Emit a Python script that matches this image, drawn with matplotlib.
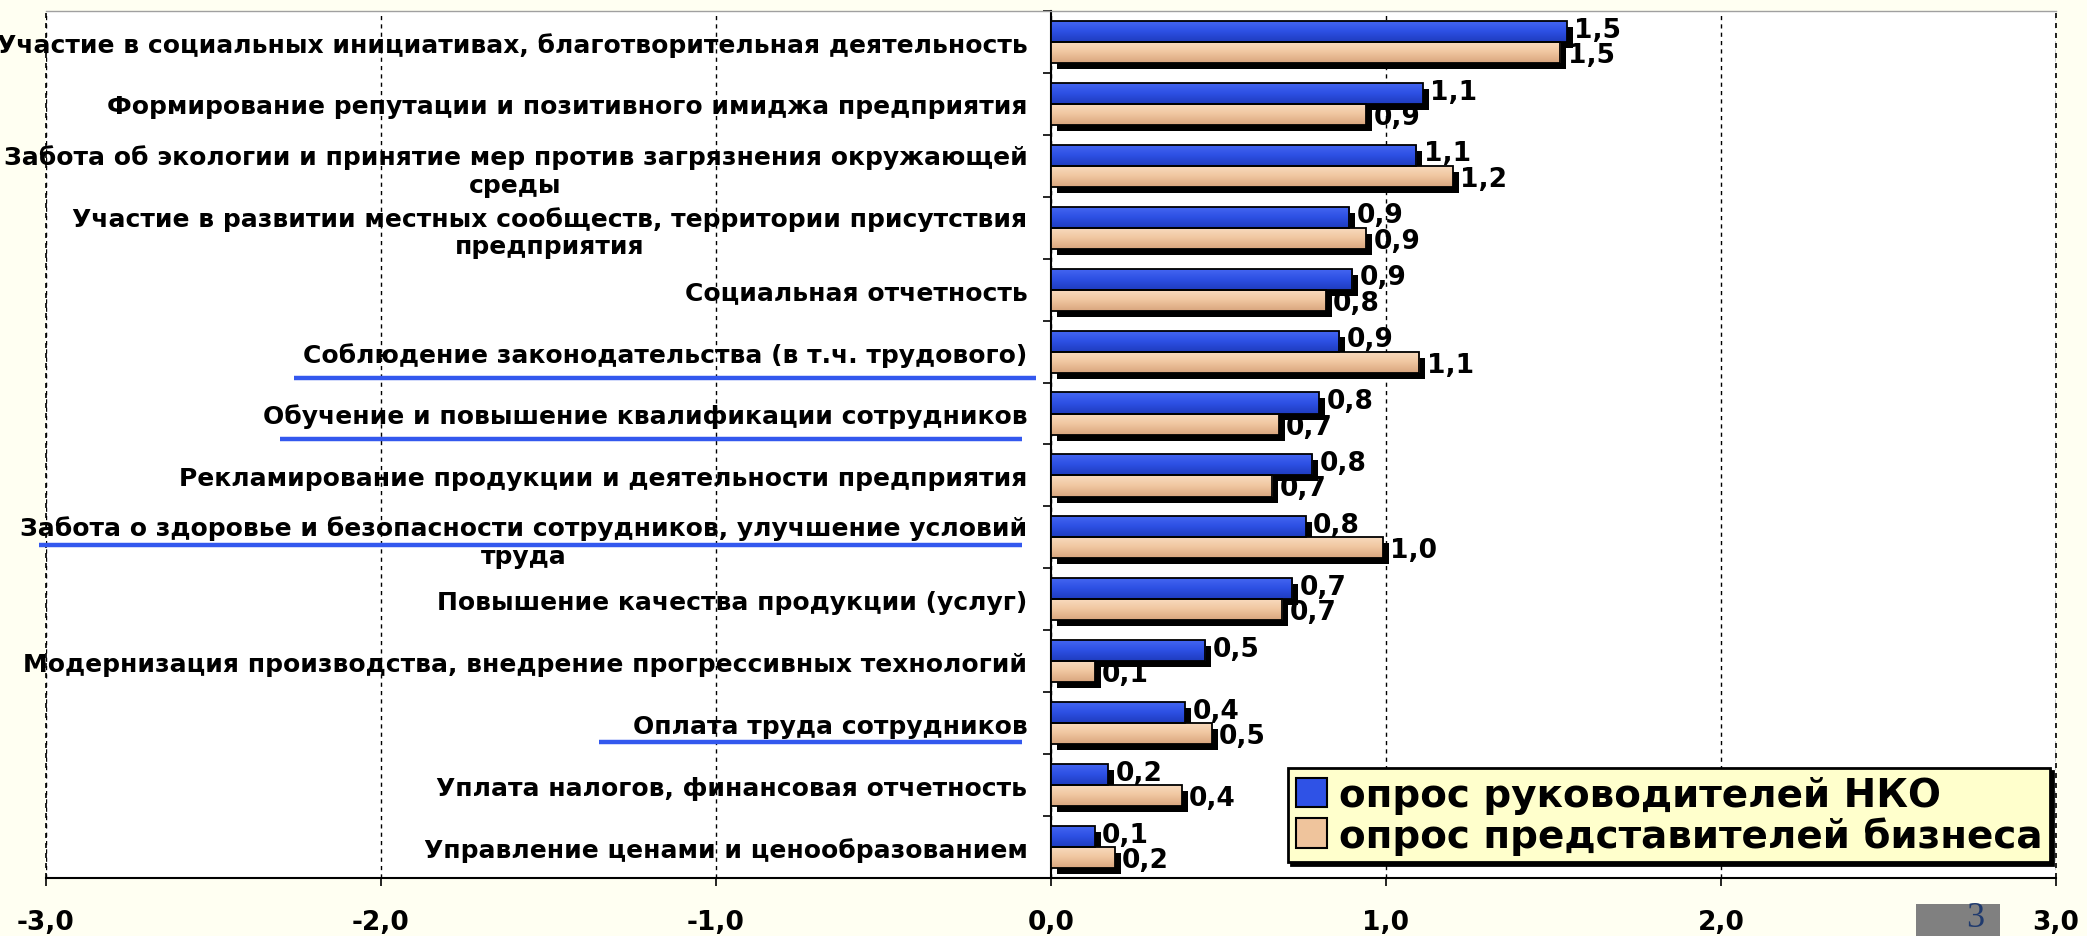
import numpy as np
import matplotlib
matplotlib.use('Agg')
import matplotlib.pyplot as plt
from matplotlib import transforms
from matplotlib.patches import Patch, Rectangle
from matplotlib.colors import LinearSegmentedColormap

# ---------------- data ----------------
categories = [
    "Участие в социальных инициативах, благотворительная деятельность",
    "Формирование репутации и позитивного имиджа предприятия",
    "Забота об экологии и принятие мер против загрязнения окружающей\nсреды",
    "Участие в развитии местных сообществ, территории присутствия\nпредприятия",
    "Социальная отчетность",
    "Соблюдение законодательства (в т.ч. трудового)",
    "Обучение и повышение квалификации сотрудников",
    "Рекламирование продукции и деятельности предприятия",
    "Забота о здоровье и безопасности сотрудников, улучшение условий\nтруда",
    "Повышение качества продукции (услуг)",
    "Модернизация производства, внедрение прогрессивных технологий",
    "Оплата труда сотрудников",
    "Уплата налогов, финансовая отчетность",
    "Управление ценами и ценообразованием",
]
nko = [1.54, 1.11, 1.09, 0.89, 0.90, 0.86, 0.80, 0.78, 0.76, 0.72, 0.46, 0.40, 0.17, 0.13]
business = [1.52, 0.94, 1.20, 0.94, 0.82, 1.10, 0.68, 0.66, 0.99, 0.69, 0.13, 0.48, 0.39, 0.19]
series_names = ["опрос руководителей НКО", "опрос представителей бизнеса"]
x_ticks = [-3, -2, -1, 0, 1, 2, 3]
x_tick_labels = ["-3,0", "-2,0", "-1,0", "0,0", "1,0", "2,0", "3,0"]
underlined = [5, 6, 8, 11]

# ---------------- style ----------------
FONT = 'DejaVu Sans'
BLUE = '#2F52E6'
BEIGE = '#EFC49C'
blue_cm = LinearSegmentedColormap.from_list('b', ['#4668F2', '#2D50E4', '#1F3CBE'])
beige_cm = LinearSegmentedColormap.from_list('g', ['#F9DCC0', '#F0C6A0', '#D9A67E'])

fig = plt.figure(figsize=(20.87, 9.37), dpi=100, facecolor='#FFFFF2')
ax = fig.add_axes([0.02204, 0.0619, 0.9631, 0.9253])
ax.set_facecolor('white')
n = len(categories)
y = np.arange(n)
h = 0.34
ax.set_xlim(-3, 3)
ax.set_ylim(n - 0.5, -0.5)
ax.set_autoscale_on(False)

# shadows
shadow_tr = transforms.offset_copy(ax.transData, fig=fig, x=6, y=-6, units='dots')
for vals, off in ((nko, -h / 2), (business, h / 2)):
    ax.barh(y + off, vals, height=h, color='black', transform=shadow_tr, zorder=2)

# bars with gradient
grad = np.linspace(0, 1, 64).reshape(-1, 1)
for vals, off, col, cm in ((nko, -h / 2, BLUE, blue_cm), (business, h / 2, BEIGE, beige_cm)):
    bars = ax.barh(y + off, vals, height=h, color=col, edgecolor='none', zorder=3)
    for r in bars:
        x0, y0 = r.get_xy()
        w, hh = r.get_width(), r.get_height()
        im = ax.imshow(grad, cmap=cm, extent=[x0, x0 + w, y0 + hh, y0], aspect='auto',
                       zorder=3.5, interpolation='bilinear')
        im.set_clip_path(r)
    ax.barh(y + off, vals, height=h, facecolor='none', edgecolor='black', linewidth=1.3, zorder=4)

ax.set_xlim(-3, 3)
ax.set_ylim(n - 0.5, -0.5)

# value labels
for yi, v in zip(y, nko):
    ax.text(v + 0.022, yi - h / 2 - 0.03, f"{v:.1f}".replace('.', ','), ha='left', va='center',
            fontsize=19, fontweight='bold', family=FONT, zorder=6)
for yi, v in zip(y, business):
    ax.text(v + 0.022, yi + h / 2 + 0.04, f"{v:.1f}".replace('.', ','), ha='left', va='center',
            fontsize=19, fontweight='bold', family=FONT, zorder=6)

# axes styling
ax.spines['left'].set_position(('data', 0))
ax.spines['left'].set_linewidth(1.5)
ax.spines['right'].set_visible(False)
ax.spines['top'].set_color('#A0A0A0')
ax.spines['top'].set_linewidth(1.0)
ax.spines['bottom'].set_linewidth(1.5)

ax.set_yticks(y)
ax.set_yticklabels(categories, fontsize=18, fontweight='bold', family=FONT, multialignment='center')
ax.set_yticks(np.arange(-0.5, n, 1.0), minor=True)
ax.tick_params(axis='y', which='major', length=0, pad=17)
ax.tick_params(axis='y', which='minor', length=6, width=1.2, direction='out')

ax.set_xticks(x_ticks)
ax.set_xticklabels(x_tick_labels, fontsize=19, fontweight='bold', family=FONT)
ax.tick_params(axis='x', which='major', length=6, width=1.2, direction='out', pad=16)

ax.grid(axis='x', color='black', linestyle=(0, (3, 3)), linewidth=1.0)
ax.set_axisbelow(True)
for xv in (-3, 3):
    ax.axvline(xv, color='black', linestyle=(0, (3, 3)), linewidth=1.2, clip_on=False, zorder=1)

# underlines
ul_pos = {5: (-2.26, -0.045, 0.43), 6: (-2.30, -0.087, 0.41), 8: (-3.02, -0.087, 0.13), 11: (-1.35, -0.087, 0.30)}
for idx in underlined:
    xa, xb, dy = ul_pos[idx]
    ax.plot([xa, xb], [idx + dy, idx + dy], color='#3358EE', linewidth=3.2, clip_on=False,
            zorder=5, solid_capstyle='butt')

# legend
handles = [Patch(facecolor=BLUE, edgecolor='black', linewidth=1.5),
           Patch(facecolor=BEIGE, edgecolor='black', linewidth=1.5)]
leg = ax.legend(handles, series_names, loc='lower right', bbox_to_anchor=(0.997, 0.018),
                borderaxespad=0, prop=dict(family=FONT, weight='bold', size=28),
                facecolor='#FFFFCC', edgecolor='black', framealpha=1, fancybox=False,
                shadow={'color': 'black', 'alpha': 1}, handlelength=0.8, handleheight=0.8,
                handletextpad=0.3, labelspacing=0.05, borderpad=0.2)
leg.get_frame().set_linewidth(2)
leg.set_zorder(10)

# slide number box
fig.patches.append(Rectangle((1916 / 2087, 0), 84 / 2087, 32 / 937, transform=fig.transFigure,
                             facecolor='#808080', edgecolor='none', zorder=0))
fig.text(1975 / 2087, 2 / 937, '3', ha='center', va='bottom', fontsize=26,
         family='Liberation Serif', color='#1F3A6E')

fig.savefig('out.png', dpi=100, facecolor=fig.get_facecolor())
